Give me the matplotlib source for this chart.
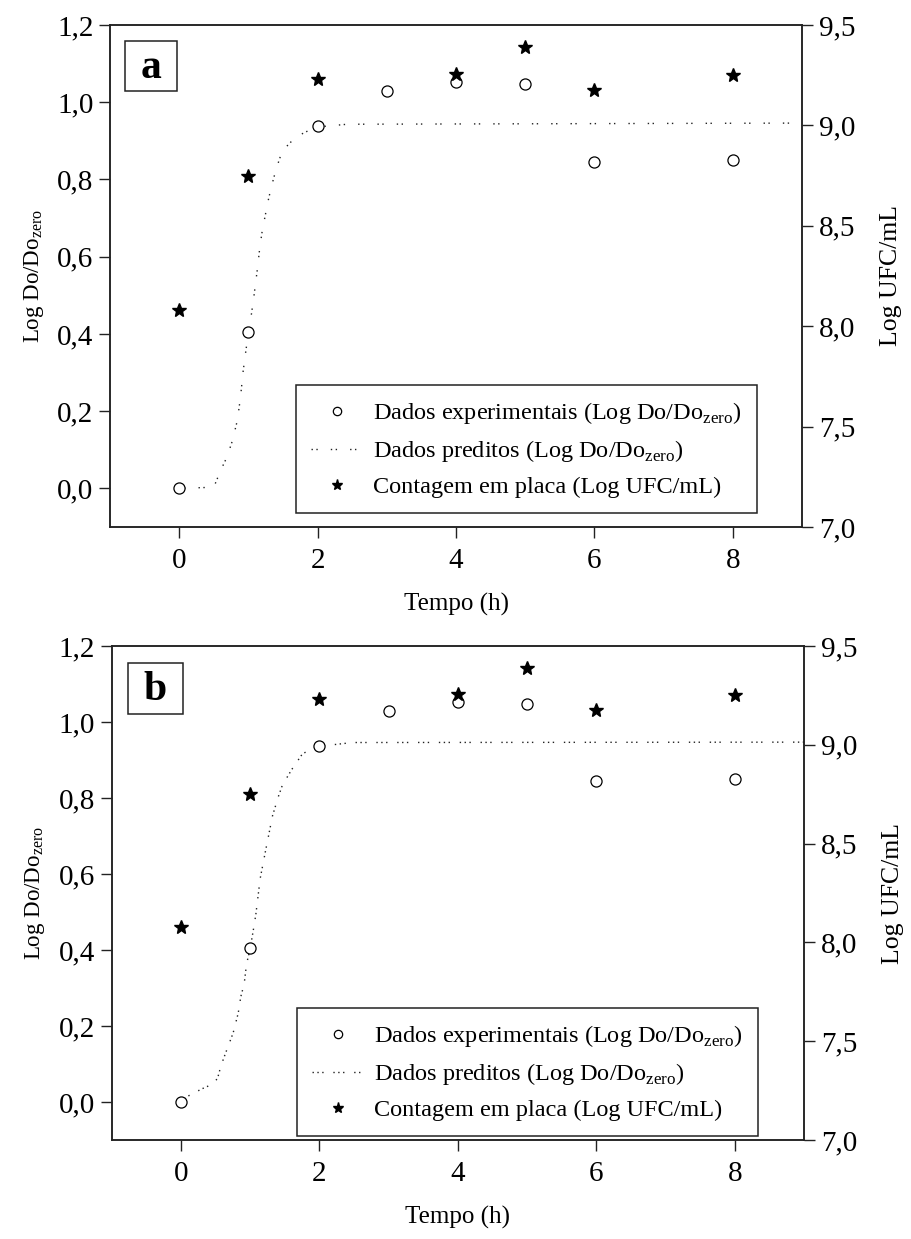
import matplotlib
matplotlib.use("Agg")
import matplotlib.pyplot as plt
from matplotlib.lines import Line2D
from matplotlib.patches import Rectangle

plt.rcParams['font.family'] = ['Liberation Serif', 'DejaVu Serif']
plt.rcParams['mathtext.fontset'] = 'custom'
plt.rcParams['mathtext.rm'] = 'Liberation Serif'

# Experimental optical density (left axis)
time_exp = [0, 1, 2, 3, 4, 5, 6, 8]
logdo_exp = [0.0, 0.404, 0.938, 1.029, 1.053, 1.047, 0.845, 0.850]

# Plate counts (right axis)
time_count = [0, 1, 2, 4, 5, 6, 8]
log_ufc = [8.08, 8.75, 9.23, 9.255, 9.39, 9.175, 9.25]

# Predicted curves for both panels
time_pred_a = [0, 0.5, 0.6, 0.69, 0.77, 0.84, 0.886, 0.925, 0.97, 1.03, 1.078,
               1.127, 1.165, 1.2, 1.247, 1.295, 1.367, 1.44, 1.49, 1.63, 1.8,
               2.0, 2.43, 9.0]
logdo_pred_a = [0, 0.003, 0.047, 0.081, 0.124, 0.176, 0.236, 0.305, 0.365,
                0.434, 0.495, 0.564, 0.624, 0.667, 0.71, 0.753, 0.805, 0.848,
                0.874, 0.9, 0.921, 0.936, 0.943, 0.946]

time_pred_b = [0, 0.12, 0.31, 0.41, 0.53, 0.58, 0.65, 0.757, 0.83, 0.867,
               0.916, 0.95, 1.0, 1.046, 1.084, 1.147, 1.22, 1.277, 1.325, 1.41,
               1.47, 1.614, 1.76, 2.0, 2.48, 9.0]
logdo_pred_b = [0, 0.017, 0.035, 0.043, 0.061, 0.095, 0.13, 0.182, 0.234,
                0.277, 0.311, 0.363, 0.402, 0.45, 0.493, 0.588, 0.657, 0.709,
                0.753, 0.804, 0.835, 0.878, 0.917, 0.936, 0.946, 0.947]

x_ticks = [0, 2, 4, 6, 8]
left_ticks = [0.0, 0.2, 0.4, 0.6, 0.8, 1.0, 1.2]
right_ticks = [7.0, 7.5, 8.0, 8.5, 9.0, 9.5]

W, H = 911, 1239
fig = plt.figure(figsize=(W / 100, H / 100), dpi=100)


def fmt(v):
    return f"{v:.1f}".replace('.', ',')


def panel(rect, letter, box, tpred, vpred, dash, leg_anchor):
    ax = fig.add_axes(rect)
    ax2 = ax.twinx()
    ax.set_xlim(-1, 9)
    ax.set_ylim(-0.1, 1.2)
    ax2.set_ylim(7.0, 9.5)

    ax.plot(tpred, vpred, color='#222222', lw=1.0, linestyle=dash,
            zorder=2)
    ax.plot(time_exp, logdo_exp, linestyle='none', marker='o', ms=8,
            mfc='white', mec='black', mew=0.9, zorder=3)
    ax2.plot(time_count, log_ufc, linestyle='none', marker='*', ms=10.5,
             color='black', zorder=3)

    ax.set_xticks(x_ticks)
    ax.set_xticklabels([str(t) for t in x_ticks])
    ax.set_yticks(left_ticks)
    ax.set_yticklabels([fmt(v) for v in left_ticks])
    ax2.set_yticks(right_ticks)
    ax2.set_yticklabels([fmt(v) for v in right_ticks])

    for a in (ax, ax2):
        a.tick_params(direction='out', length=8, width=1.0, labelsize=21,
                      pad=4, colors='#222222', labelcolor='black')
        for s in a.spines.values():
            s.set_linewidth(1.1)
            s.set_color('#222222')
    ax.tick_params(axis='x', pad=7)

    ax.set_xlabel('Tempo (h)', fontsize=18, labelpad=14)
    ax.set_ylabel(r'Log Do/Do$_{\mathregular{zero}}$', fontsize=16.5,
                  labelpad=8)
    ax2.set_ylabel('Log UFC/mL', fontsize=18.5, labelpad=18)

    ax2.add_patch(Rectangle((box[0], box[1]), box[2], box[3],
                            transform=ax2.transAxes, fill=False,
                            edgecolor='#222222', lw=1.1, zorder=5))
    ax2.text(box[0] + box[2] / 2, box[1] + box[3] / 2 - 0.004, letter,
             transform=ax2.transAxes, ha='center', va='center',
             fontsize=30, fontweight='bold', zorder=6)

    handles = [
        Line2D([], [], linestyle='none', marker='o', ms=6, mfc='white',
               mec='black', mew=0.9),
        Line2D([], [], color='#222222', lw=1.0, linestyle=dash),
        Line2D([], [], linestyle='none', marker='*', ms=8, color='black'),
    ]
    labels = [r'Dados experimentais (Log Do/Do$_{\mathregular{zero}}$)',
              r'Dados preditos (Log Do/Do$_{\mathregular{zero}}$)',
              'Contagem em placa (Log UFC/mL)']
    leg = ax2.legend(handles, labels, loc='upper left',
                     bbox_to_anchor=leg_anchor,
                     bbox_transform=fig.transFigure, borderaxespad=0,
                     fontsize=17.5, frameon=True, fancybox=False,
                     edgecolor='#222222', framealpha=1, handlelength=2.1,
                     handletextpad=0.45, labelspacing=0.5, borderpad=0.62)
    leg.get_frame().set_linewidth(1.1)
    leg.set_zorder(10)
    return ax, ax2


panel([110 / W, 1 - 527 / H, 692 / W, 502 / H], 'a',
      (0.0217, 0.8685, 0.0756, 0.1005),
      time_pred_a, logdo_pred_a, (0, (1, 2.5, 1, 9.4)),
      (296 / W, 1 - 385 / H))
panel([111.5 / W, 1 - 1140 / H, 692.5 / W, 494 / H], 'b',
      (0.0234, 0.862, 0.0794, 0.104),
      time_pred_b, logdo_pred_b, (0, (1, 2.5, 1, 2.5, 1, 7)),
      (297 / W, 1 - 1008 / H))

fig.savefig('out.png', dpi=100)
